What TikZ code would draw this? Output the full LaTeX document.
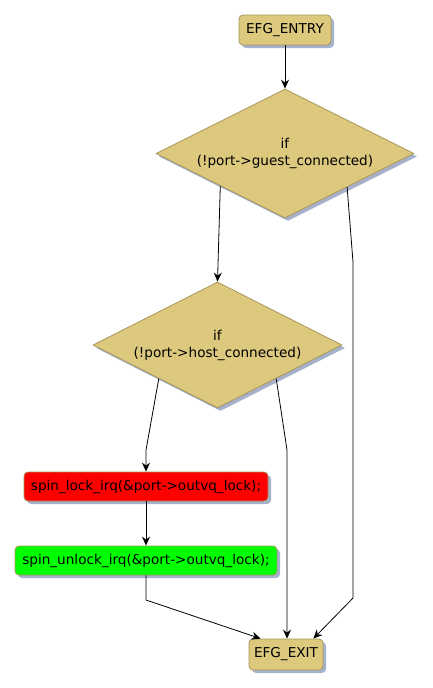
\documentclass[tikz,border=0pt]{standalone}
\usepackage{fontspec}
\setmainfont{DejaVu Sans}
\usetikzlibrary{arrows.meta, shapes.geometric, shadows, calc, positioning}

\definecolor{tanfill}{HTML}{DCC97E}
\definecolor{tanline}{HTML}{A8955A}
\definecolor{shadowblue}{HTML}{A4B2CC}
\definecolor{lockred}{HTML}{FF0000}
\definecolor{unlockgreen}{HTML}{00FF00}

\begin{document}
\begin{tikzpicture}[x=1pt, y=-1pt,
    font=\fontsize{13.6}{17}\selectfont,
    every path/.style={line width=0.8pt},
    >={Stealth[length=9pt, width=8pt, inset=3pt]},
    boxnode/.style={draw=tanline, fill=tanfill, rounded corners=4pt,
        inner sep=0pt, line width=0.8pt,
        drop shadow={shadow xshift=3pt, shadow yshift=-3pt, fill=shadowblue, opacity=1}},
    testnode/.style={diamond, draw=tanline, fill=tanfill, aspect=2,
        inner sep=0pt, align=center, line width=0.8pt,
        drop shadow={shadow xshift=3pt, shadow yshift=-3pt, fill=shadowblue, opacity=1}}]
    \useasboundingbox (0,0) rectangle (433,688);

    % Entry and exit
    \node[boxnode, minimum width=92pt, minimum height=30pt] (entry) at (285,30) {EFG\_ENTRY};
    \node[boxnode, minimum width=74pt, minimum height=31pt] (exit) at (286,654.5) {EFG\_EXIT};

    % Tests
    \node[testnode, minimum width=258pt, minimum height=129pt] (guest) at (285,153.5)
        {if\\(!port->guest\_connected)};
    \node[testnode, minimum width=249pt, minimum height=126pt] (host) at (217.5,345)
        {if\\(!port->host\_connected)};

    % Statements
    \node[boxnode, fill=lockred, minimum width=244pt, minimum height=29pt] (lock) at (146,486.5)
        {spin\_lock\_irq(\&port->outvq\_lock);};
    \node[boxnode, fill=unlockgreen, minimum width=262pt, minimum height=29pt] (unlock) at (146,560.5)
        {spin\_unlock\_irq(\&port->outvq\_lock);};

    % Bends
    \coordinate (gbend) at (353,262);
    \coordinate (gdown) at (353,598);
    \coordinate (hleft) at (146,450);
    \coordinate (hright) at (287,450);
    \coordinate (ubend) at (146,600);

    % Exits of the host test
    \coordinate (hno) at ($(host.west)!0.53!(host.south)$);
    \coordinate (hyes) at ($(host.east)!0.53!(host.south)$);

    % Connectors
    \draw[->] (entry) -- (guest.north);
    \draw[->] (guest.south west) -- (host.north);
    \draw[->] ($(guest.east)!0.52!(guest.south)$) -- (gbend) -- (gdown) -- ([xshift=-10pt]exit.north east);
    \draw[->] (hno) -- (hleft) -- (lock.north);
    \draw[->] (hyes) -- (hright) -- (hright |- exit.north);
    \draw[->] (lock) -- (unlock);
    \draw[->] (unlock.south) -- (ubend) -- ([xshift=12pt]exit.north west);
\end{tikzpicture}
\end{document}
